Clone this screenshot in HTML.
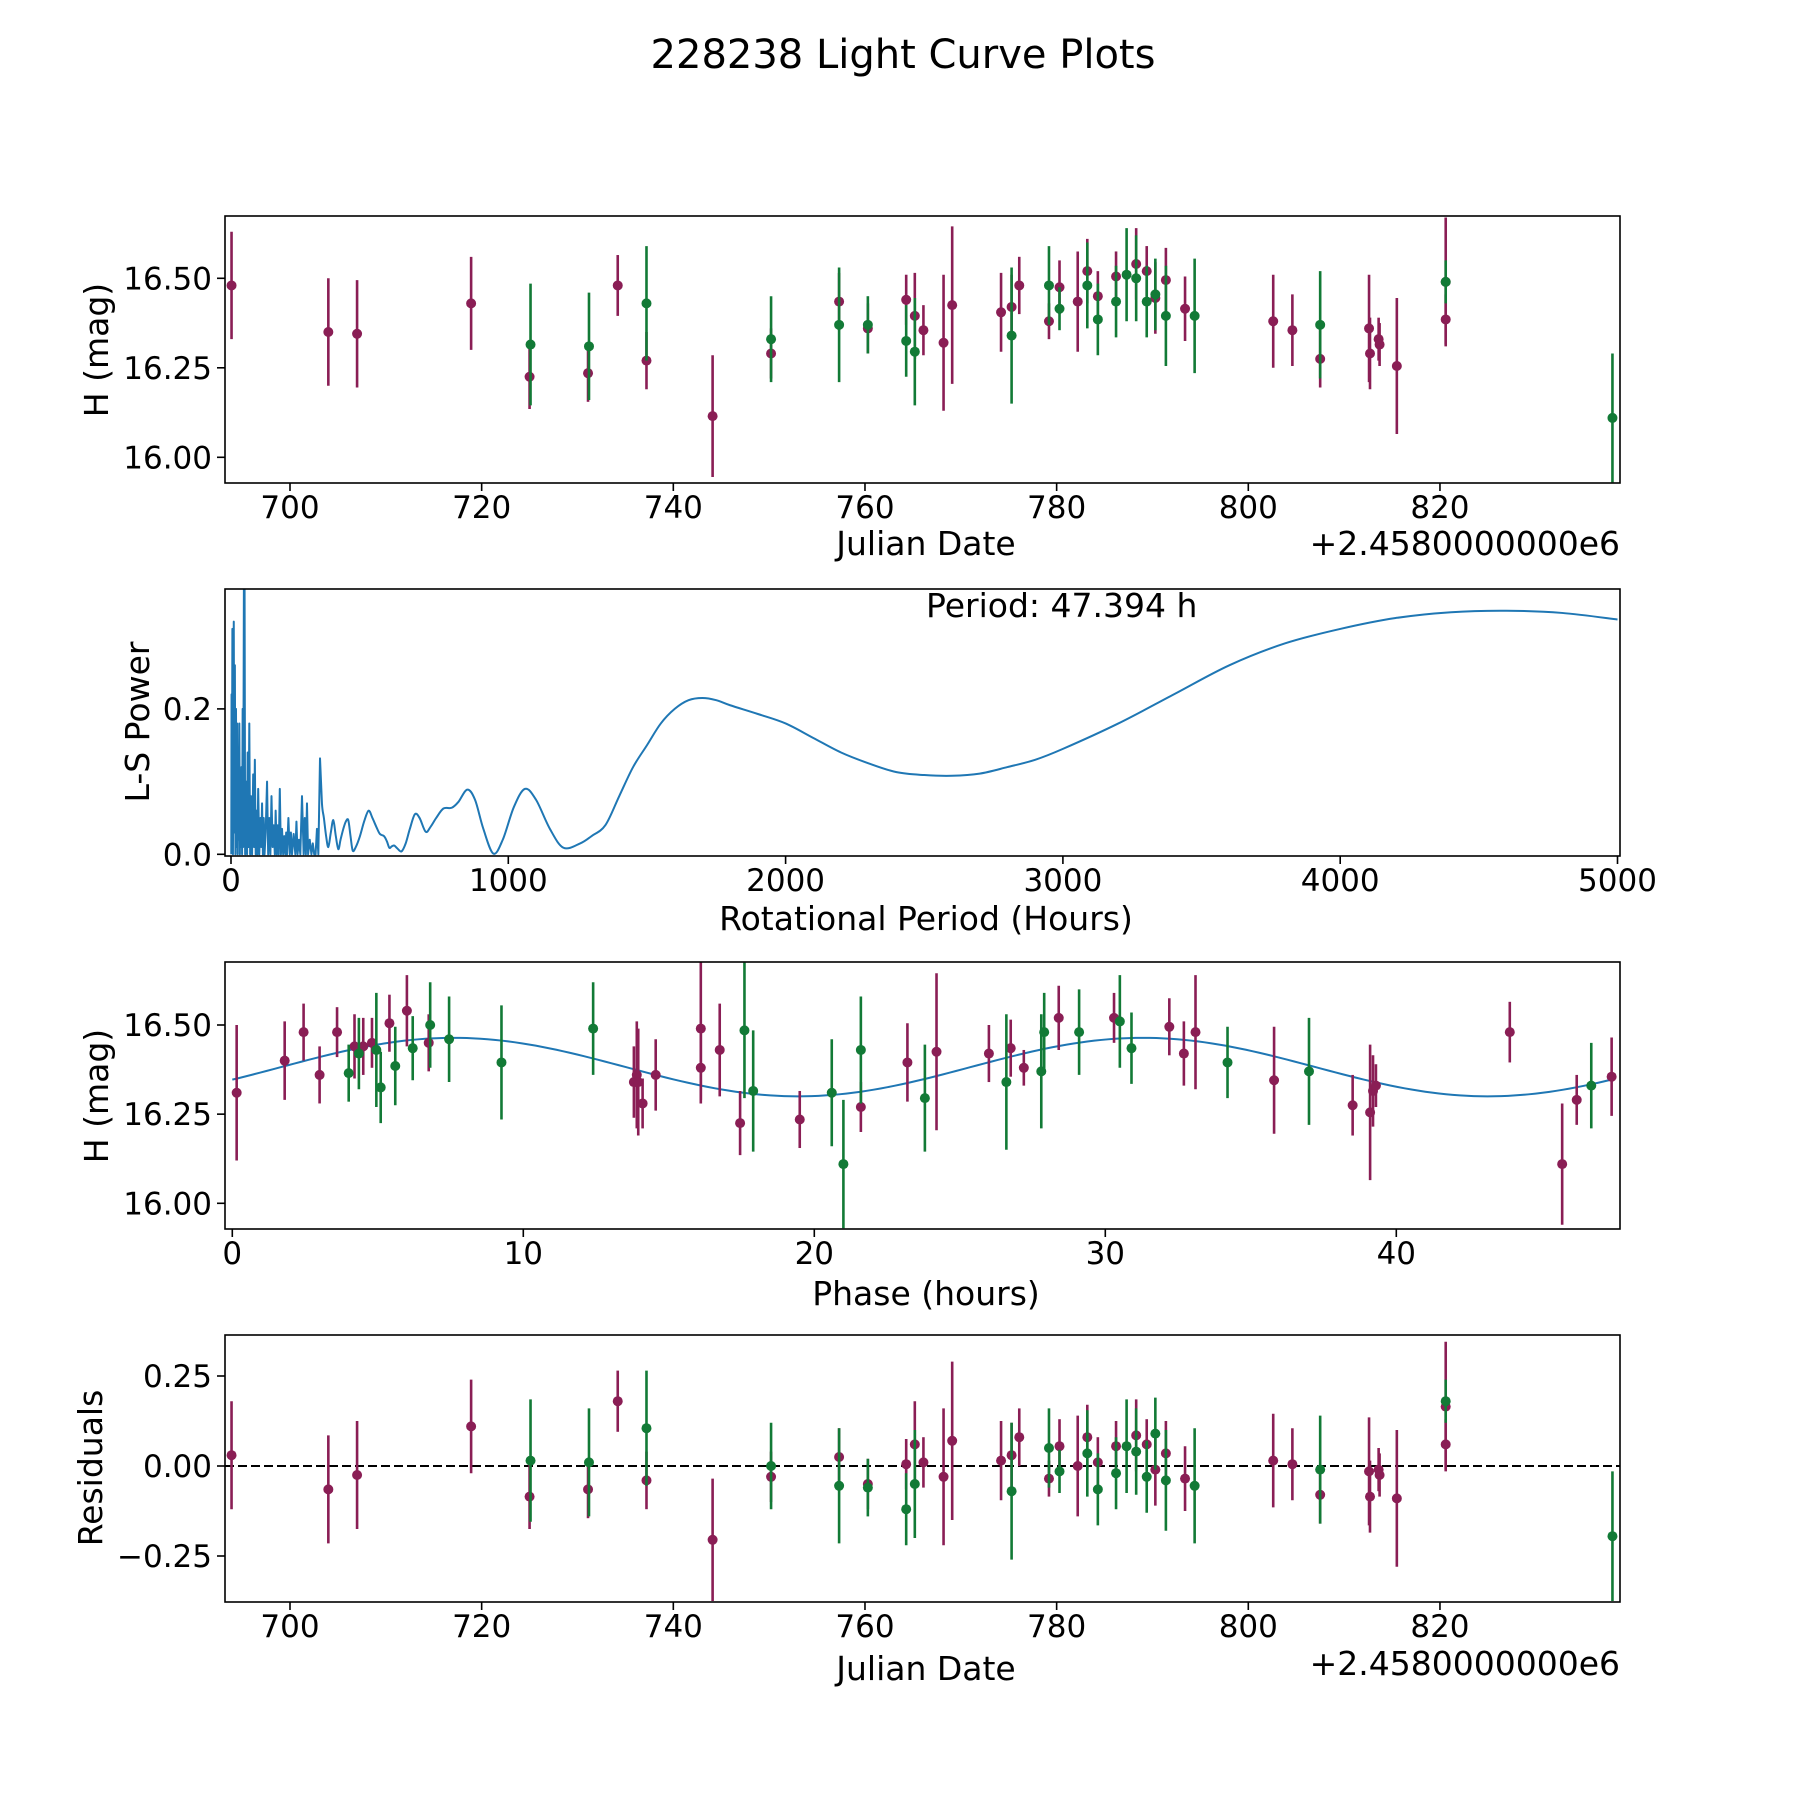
<!DOCTYPE html>
<html><head><meta charset="utf-8"><title>228238 Light Curve Plots</title>
<style>html,body{margin:0;padding:0;background:#fff}svg{display:block}text{font-family:"DejaVu Sans","Liberation Sans",sans-serif;fill:#000}</style>
</head><body>
<svg id="fig" width="1800" height="1800" viewBox="0 0 1800 1800" xmlns="http://www.w3.org/2000/svg">
<text x="903" y="68" font-size="40" text-anchor="middle">228238 Light Curve Plots</text>
</svg>
<script>
// ---------- DATA ----------
const lcDatesA = [693.9,704.0,707.0,718.9,725.0,731.1,734.2,737.2,744.1,750.2,757.3,760.3,764.3,765.2,766.1,768.2,769.1,774.2,775.3,776.1,779.2,780.3,782.2,783.2,784.3,786.2,788.3,789.4,790.3,791.4,793.4,802.6,804.6,807.5,812.6,812.7,813.6,813.7,815.5,820.6,820.6];
const lcMagA = [16.48,16.35,16.345,16.43,16.225,16.235,16.48,16.27,16.115,16.29,16.435,16.36,16.44,16.395,16.355,16.32,16.425,16.405,16.42,16.48,16.38,16.475,16.435,16.52,16.45,16.505,16.54,16.52,16.445,16.495,16.415,16.38,16.355,16.275,16.36,16.29,16.33,16.315,16.255,16.49,16.385];
const lcErrA = [0.15,0.15,0.15,0.13,0.09,0.08,0.085,0.08,0.17,0.07,0.08,0.07,0.07,0.12,0.07,0.19,0.22,0.11,0.09,0.08,0.05,0.075,0.14,0.09,0.07,0.07,0.1,0.07,0.1,0.09,0.09,0.13,0.1,0.08,0.15,0.1,0.06,0.06,0.19,0.18,0.07];
const lcDatesB = [725.1,731.2,737.2,750.2,757.3,760.3,764.3,765.2,775.3,779.2,780.3,783.2,784.3,786.2,787.3,788.3,789.4,790.3,791.4,794.4,807.5,820.6,838.0];
const lcMagB = [16.315,16.31,16.43,16.33,16.37,16.37,16.325,16.295,16.34,16.48,16.415,16.48,16.385,16.435,16.51,16.5,16.435,16.455,16.395,16.395,16.37,16.49,16.11];
const lcErrB = [0.17,0.15,0.16,0.12,0.16,0.08,0.1,0.15,0.19,0.11,0.06,0.12,0.1,0.1,0.13,0.12,0.1,0.1,0.14,0.16,0.15,0.06,0.18];
const resA = [0.03,-0.065,-0.025,0.11,-0.085,-0.065,0.18,-0.04,-0.205,-0.03,0.025,-0.05,0.005,0.06,0.01,-0.03,0.07,0.015,0.03,0.08,-0.035,0.055,0.0,0.08,0.01,0.055,0.085,0.06,-0.01,0.035,-0.035,0.015,0.005,-0.08,-0.015,-0.085,-0.01,-0.025,-0.09,0.165,0.06];
const resB = [0.015,0.01,0.105,0.0,-0.055,-0.06,-0.12,-0.05,-0.07,0.05,-0.015,0.035,-0.065,-0.02,0.055,0.04,-0.03,0.09,-0.04,-0.055,-0.01,0.18,-0.195];
// Periodogram (hours, power)
const lsPeriods = [
1,2,3,5,7,10,12,14,16,18,
20,22,24,26,28,30,32,34,36,38,
40,42,44,46,47.4,49,51,55,58,60,
63,66,69,72,76,80,83,86,89,92,
95,98,102,106,109,112,115,118,121,125,
130,134,138,142,146,150,154,158,161,165,
168,172,176,180,184,188,192,196,199,202,
207,212,216,220,226,232,236,240,245,250,
256,262,266,270,274,278,284,290,295,300,
305,310,315,321,328,335,343,351,360,369,
378,387,395,405,414,423,431,439,450,465,
480,496,510,525,537,552,562,571,580,589,
600,615,630,645,663,680,702,720,740,766,
796,820,852,880,910,946,980,1020,1060,1100,
1150,1199,1259,1300,1350,1400,1450,1500,1550,1600,
1650,1700,1750,1800,1900,2000,2100,2200,2300,2400,
2500,2600,2700,2800,2900,3000,3200,3400,3600,3800,
4000,4200,4400,4600,4800,5000];
const lsPower = [
0.0,0.22,0.02,0.31,0.0,0.32,0.03,0.26,0.0,0.2,
0.01,0.18,0.0,0.14,0.02,0.18,0.0,0.1,0.01,0.12,
0.0,0.2,0.01,0.3,0.5,0.36,0.0,0.1,0.0,0.14,
0.01,0.18,0.0,0.08,0.0,0.11,0.01,0.13,0.0,0.06,
0.0,0.09,0.0,0.05,0.01,0.07,0.0,0.05,0.0,0.03,
0.1,0.0,0.05,0.0,0.08,0.01,0.04,0.0,0.06,0.0,
0.04,0.0,0.09,0.0,0.035,0.0,0.025,0.0,0.03,0.0,
0.05,0.0,0.03,0.0,0.028,0.0,0.045,0.0,0.02,0.0,
0.08,0.0,0.05,0.0,0.07,0.0,0.02,0.0,0.015,0.0,
0.0,0.035,0.0,0.132,0.07,0.05,0.025,0.01,0.03,0.047,
0.025,0.007,0.02,0.035,0.045,0.047,0.025,0.005,0.01,0.025,
0.045,0.06,0.05,0.037,0.028,0.025,0.018,0.009,0.011,0.012,
0.008,0.004,0.015,0.035,0.055,0.05,0.031,0.038,0.05,0.063,
0.064,0.072,0.089,0.075,0.035,0.001,0.02,0.065,0.09,0.075,
0.035,0.009,0.015,0.025,0.04,0.08,0.12,0.15,0.18,0.2,
0.212,0.215,0.212,0.205,0.193,0.18,0.16,0.14,0.125,0.113,
0.109,0.108,0.111,0.12,0.13,0.145,0.18,0.22,0.26,0.29,
0.31,0.325,0.333,0.335,0.332,0.323];
// Phase-folded curve
const phA = [0.15,1.8,2.45,3.0,3.6,4.2,4.5,4.8,5.4,6.0,6.75,13.8,13.9,13.95,14.1,14.55,16.1,16.1,16.75,17.45,19.5,21.6,23.2,24.2,26.0,26.75,27.2,28.4,30.3,32.2,32.7,33.1,35.8,38.5,39.1,39.2,39.3,43.9,45.7,46.2,47.4];
const phMagA = [16.31,16.40,16.48,16.36,16.48,16.44,16.44,16.45,16.505,16.54,16.45,16.34,16.36,16.34,16.28,16.36,16.38,16.49,16.43,16.225,16.235,16.27,16.395,16.425,16.42,16.435,16.38,16.52,16.52,16.495,16.42,16.48,16.345,16.275,16.255,16.315,16.33,16.48,16.11,16.29,16.355];
const phErrA = [0.19,0.11,0.08,0.08,0.07,0.09,0.08,0.07,0.08,0.1,0.08,0.1,0.15,0.15,0.07,0.1,0.1,0.2,0.13,0.09,0.08,0.07,0.11,0.22,0.08,0.08,0.05,0.09,0.07,0.08,0.09,0.16,0.15,0.085,0.19,0.1,0.06,0.085,0.17,0.07,0.11];
const phB = [4.0,4.35,4.95,5.1,5.6,6.2,6.8,7.45,9.25,12.4,17.6,17.9,20.6,21.0,21.6,23.8,26.6,27.8,27.9,29.1,30.5,30.9,34.2,37.0,46.7];
const phMagB = [16.365,16.42,16.43,16.325,16.385,16.435,16.50,16.46,16.395,16.49,16.485,16.315,16.31,16.11,16.43,16.295,16.34,16.37,16.48,16.48,16.51,16.435,16.395,16.37,16.33];
const phErrB = [0.08,0.1,0.16,0.1,0.11,0.09,0.12,0.12,0.16,0.13,0.19,0.17,0.15,0.18,0.15,0.15,0.19,0.16,0.11,0.12,0.13,0.1,0.1,0.15,0.12];
const modelMean = 16.382, modelAmp = 0.082, modelPeakPhase = 7.6, modelPeriod = 47.394;
const jdTicks = [700,720,740,760,780,800,820];
const magTicks = [16.0,16.25,16.5];
const magTickLabels = ["16.00","16.25","16.50"];
const lsXTicks = [0,1000,2000,3000,4000,5000];
const lsYTicks = [0.0,0.2];
const lsYTickLabels = ["0.0","0.2"];
const phTicks = [0,10,20,30,40];
const resTicks = [-0.25,0,0.25];
const resTickLabels = ["\u22120.25","0.00","0.25"];

// ---------- RENDER ----------
const NS = "http://www.w3.org/2000/svg";
const svg = document.getElementById("fig");
const L = 225, R = 1620;
const TF = 31, LF = 33;
const MAROON = "#8a1e55", GREEN = "#127a36", BLUE = "#1f77b4";
function mk(tag, attrs, parent) {
  const e = document.createElementNS(NS, tag);
  for (const k in attrs) e.setAttribute(k, attrs[k]);
  (parent || svg).appendChild(e);
  return e;
}
const jdX = d => 290 + (d - 700) * 9.583;
const p1Y = m => 457.3 - (m - 16) * 358;
const lsX = p => 231 + p * 0.2773;
const lsY = v => 854.3 - v * 727;
const phX = f => 232.3 + f * 29.1;
const p3Y = m => 1203.3 - (m - 16) * 356.6;
const resY = v => 1466 - v * 360;

const panels = [
  {name:"light-curve", top:216, bot:483},
  {name:"periodogram", top:589, bot:856},
  {name:"phase-plot", top:962, bot:1229},
  {name:"residuals", top:1335, bot:1602}
];
const groups = panels.map((p, i) => {
  const g = mk("g", {});
  
  
  const cp = mk("clipPath", {id: "clip" + i}, g);
  mk("rect", {x: L, y: p.top, width: R - L, height: p.bot - p.top}, cp);
  const plot = mk("g", {"clip-path": "url(#clip" + i + ")"}, g);
  
  
  return {g, plot, p};
});

function frame(G) {
  const r = mk("rect", {x: L, y: G.p.top, width: R - L, height: G.p.bot - G.p.top, fill: "none", stroke: "#000", "stroke-width": 1.6}, G.g);
  
  
}
function xTicks(G, vals, fx, labels) {
  vals.forEach((v, i) => {
    const x = fx(v);
    const t = mk("line", {x1: x, x2: x, y1: G.p.bot, y2: G.p.bot + 8, stroke: "#000", "stroke-width": 1.6}, G.g);
    
    
    const tx = mk("text", {x: x, y: G.p.bot + 35, "font-size": TF, "text-anchor": "middle"}, G.g);
    tx.textContent = labels ? labels[i] : String(v);
    
    
  });
}
function yTicks(G, vals, fy, labels) {
  vals.forEach((v, i) => {
    const y = fy(v);
    const t = mk("line", {x1: L - 8, x2: L, y1: y, y2: y, stroke: "#000", "stroke-width": 1.6}, G.g);
    
    
    const tx = mk("text", {x: L - 13, y: y + 11, "font-size": TF, "text-anchor": "end"}, G.g);
    tx.textContent = labels[i];
    
    
  });
}
function label(G, txt, x, y, rot, anchor, nm, fs) {
  const t = mk("text", {x: x, y: y, "font-size": fs || LF, "text-anchor": anchor || "middle"}, G.g);
  if (rot) t.setAttribute("transform", "rotate(-90 " + x + " " + y + ")");
  t.textContent = txt;
  
  
}
function errPoints(G, xs, ys, es, fx, fy, color, nm) {
  xs.forEach((xv, i) => {
    const x = fx(xv), y = fy(ys[i]);
    const e = mk("line", {x1: x, x2: x, y1: fy(ys[i] + es[i]), y2: fy(ys[i] - es[i]), stroke: color, "stroke-width": 2.6}, G.plot);
    
    
    const c = mk("circle", {cx: x, cy: y, r: 5, fill: color}, G.plot);
    
    
  });
}

// Panel 1
{
  const G = groups[0];
  errPoints(G, lcDatesA, lcMagA, lcErrA, jdX, p1Y, MAROON, 'filter-a');
  errPoints(G, lcDatesB, lcMagB, lcErrB, jdX, p1Y, GREEN, 'filter-b');
  frame(G);
  xTicks(G, jdTicks, jdX);
  yTicks(G, magTicks, p1Y, magTickLabels);
  label(G, "Julian Date", 926, 555, false, "middle", 'x-axis-title');
  label(G, "+2.4580000000e6", R, 555, false, "end", 'x-offset-label');
  label(G, "H (mag)", 108, 350, true, "middle", 'y-axis-title');
}
// Panel 2
{
  const G = groups[1];
  const pts = lsPeriods.map((p, i) => [lsX(p), lsY(lsPower[i])]);
  let d = "M" + pts[0][0].toFixed(2) + "," + pts[0][1].toFixed(2);
  for (let i = 1; i < pts.length; i++) {
    if (lsPeriods[i] < 330) { d += " L" + pts[i][0].toFixed(2) + "," + pts[i][1].toFixed(2); continue; }
    const p0 = pts[Math.max(0, i - 2)], p1 = pts[i - 1], p2 = pts[i], p3 = pts[Math.min(pts.length - 1, i + 1)];
    const c1 = [p1[0] + (p2[0] - p0[0]) / 6, p1[1] + (p2[1] - p0[1]) / 6];
    const c2 = [p2[0] - (p3[0] - p1[0]) / 6, p2[1] - (p3[1] - p1[1]) / 6];
    d += " C" + c1.map(v => v.toFixed(2)).join(",") + " " + c2.map(v => v.toFixed(2)).join(",") + " " + p2.map(v => v.toFixed(2)).join(",");
  }
  const path = mk("path", {d: d, fill: "none", stroke: BLUE, "stroke-width": 2, "stroke-linejoin": "round"}, G.plot);
  
  
  frame(G);
  xTicks(G, lsXTicks, lsX);
  yTicks(G, lsYTicks, lsY, lsYTickLabels);
  label(G, "Rotational Period (Hours)", 926, 930, false, "middle", 'x-axis-title');
  label(G, "L-S Power", 149, 722, true, "middle", 'y-axis-title');
  label(G, "Period: 47.394 h", 926, 617, false, "start", 'period-annotation', 33);
}
// Panel 3
{
  const G = groups[2];
  let d = "";
  for (let i = 0; i <= 200; i++) {
    const f = modelPeriod * i / 200;
    const m = modelMean + modelAmp * Math.cos(2 * Math.PI * (f - modelPeakPhase) / (modelPeriod / 2));
    d += (i ? " L" : "M") + phX(f).toFixed(2) + "," + p3Y(m).toFixed(2);
  }
  const path = mk("path", {d: d, fill: "none", stroke: BLUE, "stroke-width": 2}, G.plot);
  
  
  errPoints(G, phA, phMagA, phErrA, phX, p3Y, MAROON, 'phase-filter-a');
  errPoints(G, phB, phMagB, phErrB, phX, p3Y, GREEN, 'phase-filter-b');
  frame(G);
  xTicks(G, phTicks, phX);
  yTicks(G, magTicks, p3Y, magTickLabels);
  label(G, "Phase (hours)", 926, 1305, false, "middle", 'x-axis-title');
  label(G, "H (mag)", 108, 1096, true, "middle", 'y-axis-title');
}
// Panel 4
{
  const G = groups[3];
  const zl = mk("line", {x1: L, x2: R, y1: resY(0), y2: resY(0), stroke: "#000", "stroke-width": 2, "stroke-dasharray": "9,4"}, G.plot);
  
  
  errPoints(G, lcDatesA, resA, lcErrA, jdX, resY, MAROON, 'residual-a');
  errPoints(G, lcDatesB, resB, lcErrB, jdX, resY, GREEN, 'residual-b');
  frame(G);
  xTicks(G, jdTicks, jdX);
  yTicks(G, resTicks, resY, resTickLabels);
  label(G, "Julian Date", 926, 1680, false, "middle", 'x-axis-title');
  label(G, "+2.4580000000e6", R, 1675, false, "end", 'x-offset-label');
  label(G, "Residuals", 102, 1468, true, "middle", 'y-axis-title');
}
</script>
</body></html>
